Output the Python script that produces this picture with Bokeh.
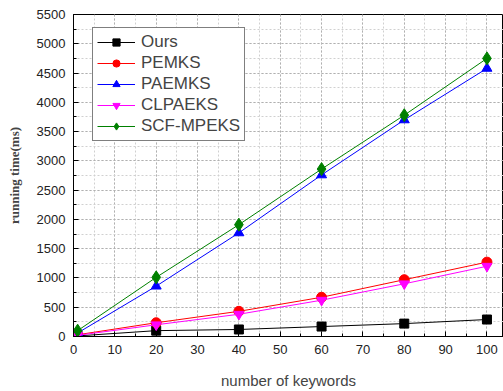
from bokeh.plotting import figure
from bokeh.models import SingleIntervalTicker, Legend
from bokeh.embed import file_html
from bokeh.resources import INLINE

x = [1, 20, 40, 60, 80, 100]
ours = [10, 100, 120, 170, 220, 290]
pemks = [30, 235, 430, 670, 970, 1270]
paemks = [60, 860, 1770, 2760, 3700, 4580]
clpaeks = [20, 200, 380, 620, 900, 1200]
scf_mpeks = [100, 1010, 1910, 2860, 3780, 4750]

series = [
    ("Ours", ours, "black", "square", 9),
    ("PEMKS", pemks, "red", "circle", 10),
    ("PAEMKS", paemks, "blue", "triangle", 10),
    ("CLPAEKS", clpaeks, "magenta", "inverted_triangle", 10),
    ("SCF-MPEKS", scf_mpeks, "green", "diamond", 13),
]

p = figure(width=503, height=391, x_range=(0, 104), y_range=(0, 5500),
           output_backend="svg", toolbar_location=None,
           min_border_left=73, min_border_top=14, min_border_bottom=54, min_border_right=0)

p.outline_line_color = "black"
p.outline_line_width = 1

p.xaxis.ticker = SingleIntervalTicker(interval=10, num_minor_ticks=2)
p.yaxis.ticker = SingleIntervalTicker(interval=500, num_minor_ticks=2)

for ax in (p.xaxis[0], p.yaxis[0]):
    ax.axis_line_color = "black"
    ax.major_tick_in = 5
    ax.major_tick_out = 0
    ax.minor_tick_in = 3
    ax.minor_tick_out = 0
    ax.major_label_text_font = "Liberation Sans"
    ax.major_label_text_font_size = "13px"
    ax.major_label_text_color = "#222222"
    ax.major_label_standoff = 8

p.xaxis.axis_label = "number of keywords"
p.xaxis.axis_label_text_font = "Liberation Sans"
p.xaxis.axis_label_text_font_size = "15px"
p.xaxis.axis_label_text_font_style = "normal"
p.xaxis.axis_label_standoff = 15

p.yaxis.axis_label = "running time(ms)"
p.yaxis.axis_label_text_font = "Liberation Serif"
p.yaxis.axis_label_text_font_size = "13px"
p.yaxis.axis_label_text_font_style = "bold"
p.yaxis.axis_label_standoff = 12

for g in (p.xgrid[0], p.ygrid[0]):
    g.grid_line_color = "#b0b0b0"
    g.grid_line_dash = "2 2"
    g.minor_grid_line_color = "#d0d0d0"
    g.minor_grid_line_dash = "2 2"

items = []
for name, ys, color, marker, sz in series:
    r1 = p.line(x, ys, line_color=color, line_width=1)
    r2 = p.scatter(x, ys, marker=marker, size=sz,
                   fill_color=color, line_color=color)
    items.append((name, [r1, r2]))

legend = Legend(items=items, location=(19, 195))
legend.margin = 0
legend.border_line_color = "black"
legend.border_line_width = 1
legend.label_text_font = "Liberation Sans"
legend.label_text_font_size = "17px"
legend.glyph_width = 38
legend.glyph_height = 18
legend.label_height = 18
legend.spacing = 1
legend.padding = 4
legend.label_standoff = 6
legend.background_fill_alpha = 1
p.add_layout(legend, "center")

open("out.html", "w").write(file_html(p, INLINE))
